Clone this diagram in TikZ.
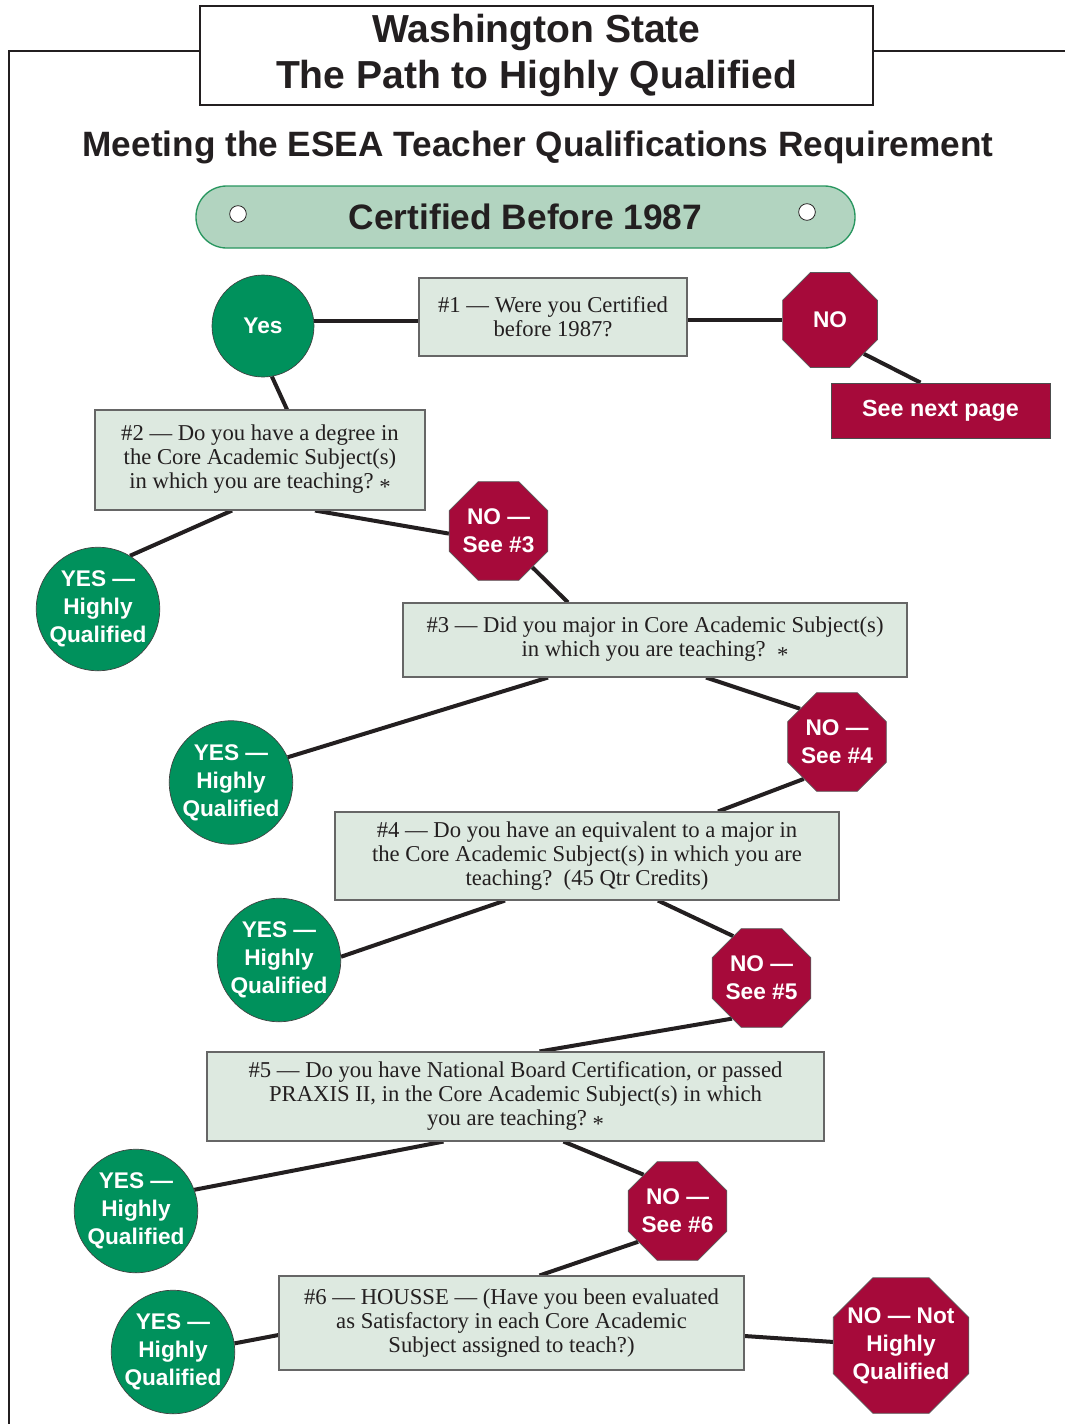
\documentclass[tikz,border=0pt]{standalone}
\usepackage{fontspec}
\setmainfont{Liberation Serif}
\newfontfamily\hsans{Liberation Sans}
\usetikzlibrary{shapes.geometric,calc,backgrounds}
\definecolor{hqgreen}{RGB}{0,145,92}
\definecolor{stopred}{RGB}{166,10,58}
\definecolor{qfill}{RGB}{221,233,224}
\definecolor{pillfill}{RGB}{178,212,192}
\definecolor{pilledge}{RGB}{40,150,95}
\definecolor{ink}{RGB}{35,31,32}
\newcommand{\astk}{\ {\raisebox{-0.6ex}{*}}}
\begin{document}
\begin{tikzpicture}[x=0.75pt,y=-0.75pt,
  qbox/.style={draw=black!60, line width=0.8pt, fill=qfill, align=center, inner sep=0pt, text=ink, font=\fontsize{17}{18}\selectfont},
  yescirc/.style={circle, draw=black!75, line width=0.5pt, fill=hqgreen, text=white, align=center, inner sep=0pt, minimum size=91.5pt, font=\hsans\bfseries\fontsize{17}{21}\selectfont},
  stopsign/.style={regular polygon, regular polygon sides=8, draw=black!65, line width=0.5pt, fill=stopred, inner sep=0pt, minimum size=80pt},
  stoptext/.style={label={[align=center, text=white, inner sep=0pt, font=\hsans\bfseries\fontsize{17}{21}\selectfont]center:{#1}}},
  link/.style={line width=3pt, draw=ink},
  frame/.style={line width=1.2pt, draw=ink}]
\useasboundingbox (0,0) rectangle (1065,1424);
% frame
\draw[frame] (200,51) -- (9,51) -- (9,1424);
\draw[frame] (873,51) -- (1065,51);
\node[draw=ink, line width=1.1pt, fill=white, minimum width=504.75pt, minimum height=74.25pt, align=center, inner sep=0pt, text=ink, font=\hsans\bfseries\fontsize{29.3}{34.5}\selectfont] (title) at (536.5,55.5) {\raisebox{-1.5pt}{Washington State}\\\raisebox{-1.5pt}{The Path to Highly Qualified}};
\node[text=ink, font=\hsans\bfseries\fontsize{26.4}{30}\selectfont] (subtitle) at (538,147) {Meeting the ESEA Teacher Qualifications Requirement};
% pill
\node[draw=pilledge, line width=1pt, fill=pillfill, rounded corners=23pt, minimum width=494.25pt, minimum height=46.5pt, inner sep=0pt, text=ink, font=\hsans\bfseries\fontsize{26.5}{30}\selectfont] (pill) at (525.5,217) {Certified Before 1987};
\node[circle, draw=ink, line width=0.6pt, fill=white, minimum size=12.5pt, inner sep=0pt] (hole1) at (238,214) {};
\node[circle, draw=ink, line width=0.6pt, fill=white, minimum size=12.5pt, inner sep=0pt] (hole2) at (807,212) {};
% questions
\node[qbox, minimum width=201pt, minimum height=58.5pt] (b1) at (553,317) {\#1 — Were you Certified\\before 1987?};
\node[qbox, minimum width=247.5pt, minimum height=75pt] (b2) at (260,460) {\#2 — Do you have a degree in\\the Core Academic Subject(s)\\in which you are teaching?\astk};
\node[qbox, minimum width=378pt, minimum height=55.5pt] (b3) at (655,640) {\#3 — Did you major in Core Academic Subject(s)\\in which you are teaching?\ \astk};
\node[qbox, minimum width=378pt, minimum height=66pt] (b4) at (587,856) {\#4 — Do you have an equivalent to a major in\\the Core Academic Subject(s) in which you are\\teaching?\ \ (45 Qtr Credits)};
\node[qbox, minimum width=462.75pt, minimum height=66.75pt] (b5) at (515.5,1096.5) {\#5 — Do you have National Board Certification, or passed\\PRAXIS II, in the Core Academic Subject(s) in which\\you are teaching?\astk};
\node[qbox, minimum width=348.75pt, minimum height=70.5pt] (b6) at (511.5,1323) {\#6 — HOUSSE — (Have you been evaluated\\as Satisfactory in each Core Academic\\Subject assigned to teach?)};
% yes circles
\node[yescirc, minimum size=76.5pt] (yes) at (263,326) {Yes};
\node[yescirc] (yes1) at (98,609) {YES —\\Highly\\Qualified};
\node[yescirc] (yes2) at (231,782.5) {YES —\\Highly\\Qualified};
\node[yescirc] (yes3) at (279,960) {YES —\\Highly\\Qualified};
\node[yescirc] (yes4) at (136,1211) {YES —\\Highly\\Qualified};
\node[yescirc] (yes5) at (173,1352) {YES —\\Highly\\Qualified};
% stop signs
\node[stopsign, minimum size=77pt, stoptext={NO}] (no1) at (830,320) {};
\node[stopsign, stoptext={NO —\\See \#3}] (no3) at (498.5,531) {};
\node[stopsign, stoptext={NO —\\See \#4}] (no4) at (837,742) {};
\node[stopsign, stoptext={NO —\\See \#5}] (no5) at (761.5,978) {};
\node[stopsign, stoptext={NO —\\See \#6}] (no6) at (677.5,1211) {};
\node[stopsign, minimum size=110pt, stoptext={NO — Not\\Highly\\Qualified}] (nothq) at (901,1345.5) {};
\node[draw=black!70, line width=0.6pt, fill=stopred, text=white, minimum width=164.25pt, minimum height=41.25pt, inner sep=0pt, font=\hsans\bfseries\fontsize{17.5}{21}\selectfont] (seenext) at (940.5,410.5) {See next page};
% connectors
\begin{scope}[on background layer]
\draw[link] (yes.6) -- (yes.6 -| b1.west);
\draw[link] (b1.east |- no1.west) -- (no1.west);
\draw[link] (no1.-45) -- ($(seenext.north)+(-20,0)$);
\draw[link] (yes.-80) -- ($(b2.north)+(27,0)$);
\draw[link] ($(b2.south)+(-28,0)$) -- (yes1.59);
\draw[link] ($(b2.south)+(55,0)$) -- (no3.183);
\draw[link] (no3.-47) -- ($(b3.north)+(-87,0)$);
\draw[link] ($(b3.south)+(-107,0)$) -- (yes2.24);
\draw[link] ($(b3.south)+(51,0)$) -- (no4.138);
\draw[link] (no4.-132) -- ($(b4.north)+(131,0)$);
\draw[link] ($(b4.south)+(-82,0)$) -- (yes3.3);
\draw[link] ($(b4.south)+(71,0)$) -- (no5.124);
\draw[link] (no5.-126) -- ($(b5.north)+(24,0)$);
\draw[link] ($(b5.south)+(-72,0)$) -- (yes4.20);
\draw[link] ($(b5.south)+(48,0)$) -- (no6.133);
\draw[link] (no6.-142) -- ($(b6.north)+(28,0)$);
\draw[link] (yes5.8) -- ($(b6.west)+(0,12)$);
\draw[link] ($(b6.east)+(0,13)$) -- (nothq.177);
\end{scope}
\end{tikzpicture}
\end{document}
